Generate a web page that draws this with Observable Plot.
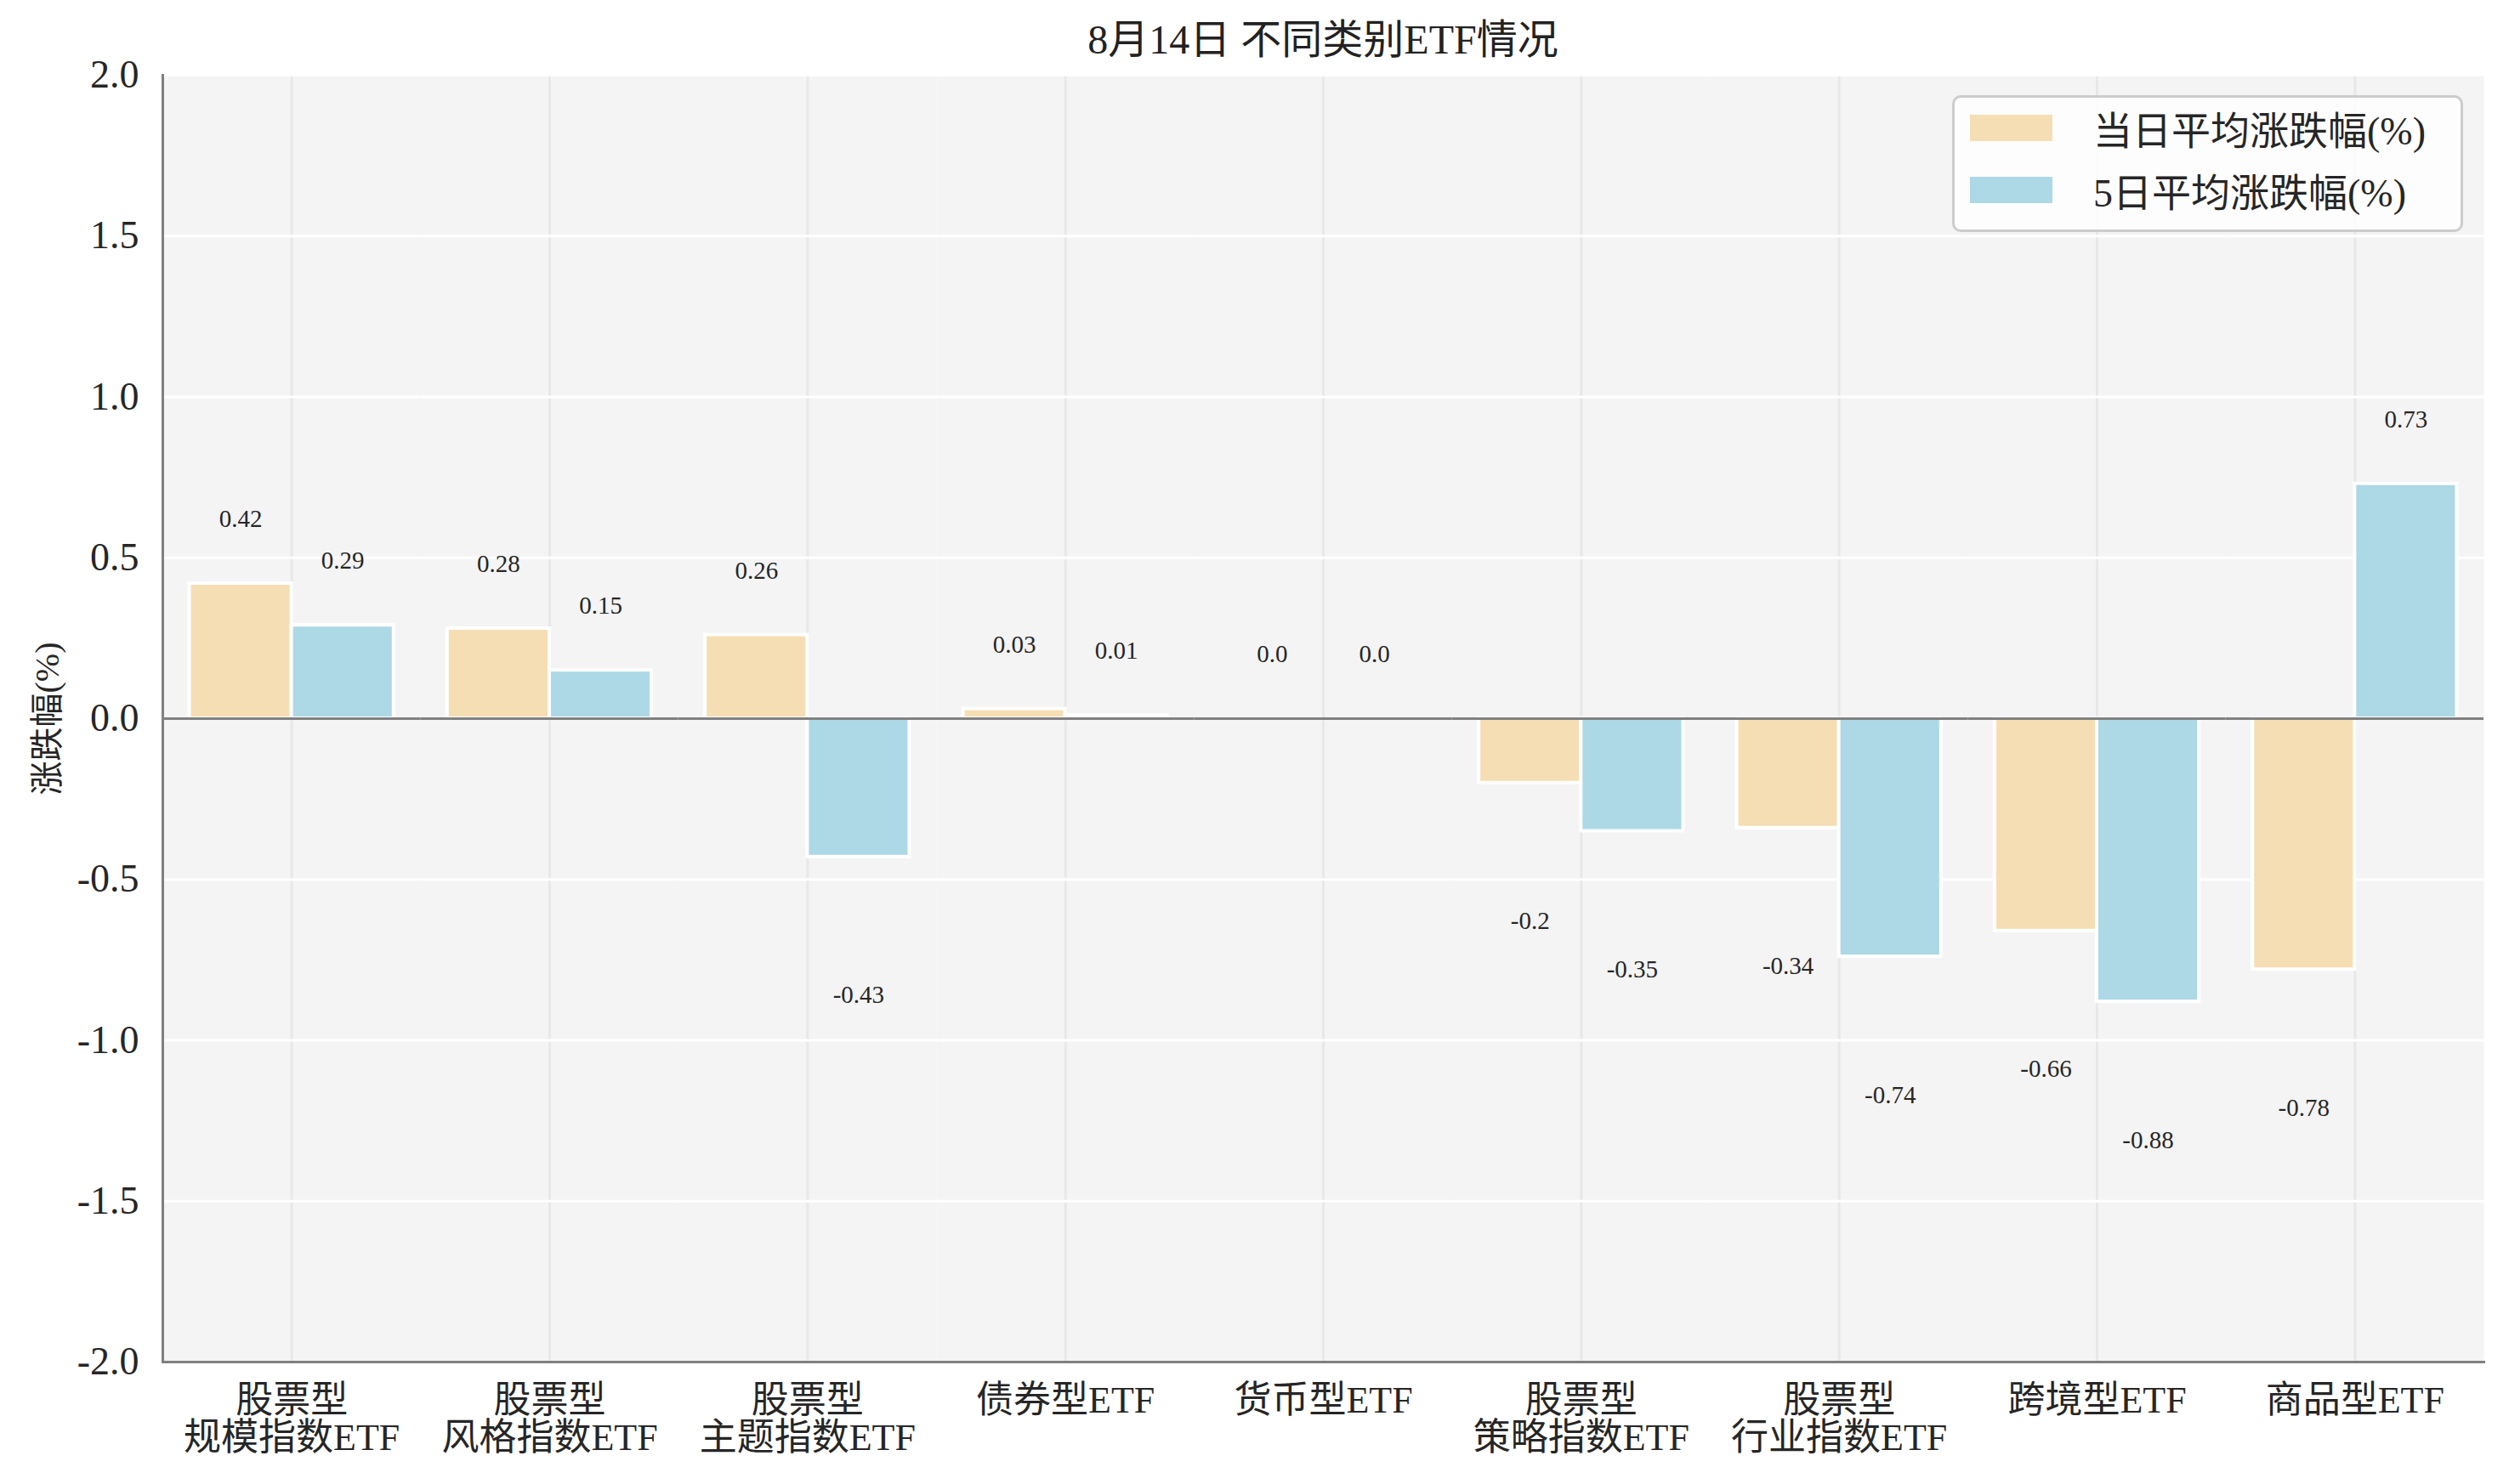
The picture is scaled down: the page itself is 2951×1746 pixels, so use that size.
<!DOCTYPE html>
<html>
<head>
<meta charset="utf-8">
<script src="https://cdn.jsdelivr.net/npm/d3@7"></script>
<script src="https://cdn.jsdelivr.net/npm/@observablehq/plot@0.6"></script>
<style>
  html, body { margin: 0; padding: 0; background: white; }
  body { font-family: "Liberation Serif", "Noto Sans CJK SC", serif; color: #262626; }
  #wrap { position: relative; width: 2951px; height: 1746px; }
  #title { height: 60px; box-sizing: border-box; padding-top: 24px; margin-left: 191px; width: 2730px; font-size: 48px; line-height: 46px; text-align: center; color: #222; white-space: pre; }
  #legend { position: absolute; left: 2296px; top: 112px; width: 601px; height: 161px; box-sizing: border-box;
            border: 3px solid #cccccc; border-radius: 10px; background: rgba(255,255,255,0.8); }
  .row { position: absolute; left: 18px; height: 47px; display: flex; align-items: center; }
  .sw { width: 97px; height: 31px; margin-right: 48px; }
  .lab { font-size: 46px; line-height: 47px; padding-top: 8px; white-space: pre; color: #262626; }
</style>
</head>
<body>
<div id="wrap">
  <div id="title"></div>
  <div id="chart"></div>
  <div id="legend"></div>
</div>
<script>
// ---- data ----
const titleText = "8月14日 不同类别ETF情况";
const yLabel = "涨跌幅(%)";
const categories = [
  "股票型\n规模指数ETF",
  "股票型\n风格指数ETF",
  "股票型\n主题指数ETF",
  "债券型ETF",
  "货币型ETF",
  "股票型\n策略指数ETF",
  "股票型\n行业指数ETF",
  "跨境型ETF",
  "商品型ETF"
];
const seriesNames = ["当日平均涨跌幅(%)", "5日平均涨跌幅(%)"];
const dailyChange   = [0.42, 0.28, 0.26, 0.03, 0.0, -0.2, -0.34, -0.66, -0.78];
const fiveDayChange = [0.29, 0.15, -0.43, 0.01, 0.0, -0.35, -0.74, -0.88, 0.73];
const seriesColors = ["#F5DEB3", "#ADD8E6"];
const yTicks = [-2.0, -1.5, -1.0, -0.5, 0.0, 0.5, 1.0, 1.5, 2.0];

// ---- table built from the arrays ----
const rows = [];
categories.forEach((c, i) => {
  rows.push({category: c, series: seriesNames[0], value: dailyChange[i]});
  rows.push({category: c, series: seriesNames[1], value: fiveDayChange[i]});
});
const fmtVal = v => Number.isInteger(v) ? v.toFixed(1) : String(v);

document.getElementById("title").textContent = titleText;

const fontStack = '"Liberation Serif", "Noto Sans CJK SC", serif';

const chart = Plot.plot({
  width: 2951,
  height: 1686,
  marginTop: 28,
  marginBottom: 144,
  marginLeft: 191,
  marginRight: 30,
  style: {fontFamily: fontStack, fontSize: "46px", color: "#262626", background: "white", overflow: "visible"},
  fx: {domain: categories, padding: 0, round: false, label: null, axis: null},
  x: {domain: seriesNames, paddingInner: 0, paddingOuter: 0.2625, round: false, axis: null},
  y: {domain: [-2, 2], label: null},
  color: {domain: seriesNames, range: seriesColors},
  marks: [
    Plot.frame({fill: "#f4f4f4", stroke: null}),
    Plot.gridFx({stroke: "#e8e8e8", strokeOpacity: 1, strokeWidth: 3}),
    Plot.gridY(yTicks, {stroke: "white", strokeOpacity: 1, strokeWidth: 3}),
    Plot.barY(rows, {fx: "category", x: "series", y: "value", fill: "series", stroke: "white", strokeWidth: 4}),
    Plot.ruleY([0], {stroke: "#808080", strokeWidth: 3}),
    Plot.text(rows, {
      fx: "category", x: "series",
      y: d => d.value >= 0 ? d.value + 0.2 : d.value - 0.43,
      text: d => fmtVal(d.value),
      fontSize: 29, fill: "#262626"
    }),
    Plot.axisY(yTicks, {tickSize: 0, tickPadding: 28, tickFormat: d => d.toFixed(1), fontSize: 46, label: null}),
    Plot.axisFx({anchor: "bottom", tickSize: 0, tickPadding: 28, fontSize: 44, lineHeight: 1, lineAnchor: "top", label: null}),
    Plot.frame({anchor: "left", facetAnchor: "left", stroke: "#808080", strokeWidth: 3}),
    Plot.frame({anchor: "bottom", stroke: "#808080", strokeWidth: 3}),
    Plot.text([yLabel], {text: d => d, frameAnchor: "left", facetAnchor: "left", textAnchor: "middle", rotate: -90, dx: -135, fontSize: 40, fill: "#262626"})
  ]
});
document.getElementById("chart").appendChild(chart);

// ---- legend ----
const legend = document.getElementById("legend");
seriesNames.forEach((name, i) => {
  const row = document.createElement("div");
  row.className = "row";
  row.style.top = (12 + 73 * i) + "px";
  const sw = document.createElement("div");
  sw.className = "sw";
  sw.style.background = seriesColors[i];
  const lab = document.createElement("div");
  lab.className = "lab";
  lab.textContent = name;
  row.appendChild(sw);
  row.appendChild(lab);
  legend.appendChild(row);
});
</script>
</body>
</html>
